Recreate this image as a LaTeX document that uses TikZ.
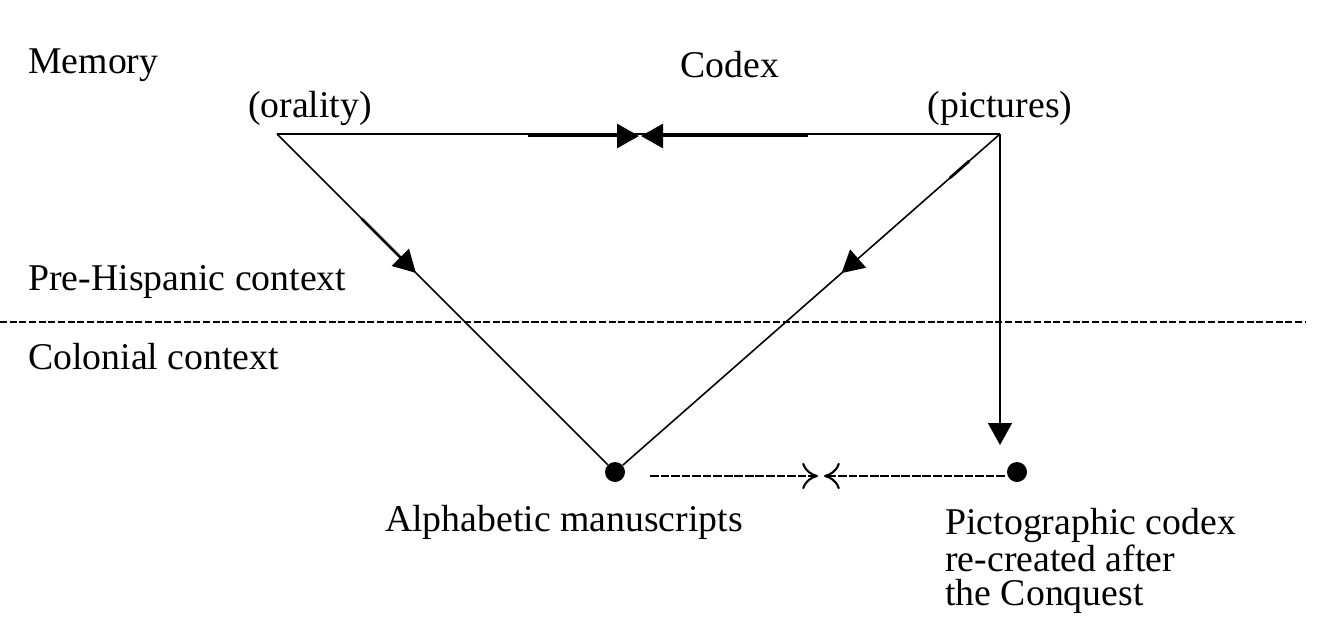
\documentclass[tikz,border=0pt]{standalone}
\usepackage{fontspec}
\setmainfont{Liberation Serif}
\usetikzlibrary{arrows.meta,decorations.markings,calc}
\begin{document}
\begin{tikzpicture}[x=0.02cm,y=-0.02cm,
  lbl/.style={font=\fontsize{21.5}{24}\selectfont,inner sep=0pt},
  tri/.style={-{Triangle[length=22*0.02cm,width=24*0.02cm]}},
  thin/.style={line width=0.9pt},
  dot/.style={circle,fill,inner sep=0pt,minimum size=20*0.02cm},
  midarrow/.style={postaction={decorate},decoration={markings,mark=at position #1 with {\arrow{Triangle[length=22*0.02cm,width=24*0.02cm]}}}}]
\useasboundingbox (0,0) rectangle (1320,629);
\coordinate (A) at (277,134);
\coordinate (P) at (1000,134);
\node[dot] (M) at (615,472) {};
\node[dot] (Q) at (1017,472) {};
\coordinate (D) at (1000,445);
\coordinate (L1) at (528,136); \coordinate (L2) at (639,136);
\coordinate (R1) at (808,136); \coordinate (R2) at (641,136);
\coordinate (B1) at (650,476); \coordinate (B2) at (818,476);
\coordinate (C1) at (1005,476); \coordinate (C2) at (824,476);
% text
\node[lbl,anchor=west] (mem) at (28,65) {Memory};
\node[lbl] (cod) at (730,65) {Codex};
\node[lbl] (ora) at (310,108) {(orality)};
\node[lbl] (pic) at (1000,108) {(pictures)};
\node[lbl,anchor=west] (pre) at (28,282) {Pre-Hispanic context};
\node[lbl,anchor=west] (col) at (28,357) {Colonial context};
\node[lbl] (alp) at (564,522) {Alphabetic manuscripts};
\node[lbl,anchor=north west,align=left,font=\fontsize{21.5}{19.4}\selectfont] (pcx) at (945,508) {Pictographic codex\\re-created after\\the Conquest};
% lines
\draw[thin] (A) -- (P);
\draw[line width=1.6pt,tri] (L1) -- (L2);
\draw[line width=1.6pt,tri] (R1) -- (R2);
\draw[thin,midarrow=0.42] (A) -- (M);
\draw[line width=1.6pt] ($(A)!0.25!(M)$) -- ($(A)!0.4!(M)$);
\draw[thin,midarrow=0.42] (P) -- (M);
\draw[line width=1.6pt] ($(P)!0.08!(M)$) -- ($(P)!0.13!(M)$);
\draw[thin,tri] (P) -- (D);
\draw[line width=0.6pt,dash pattern=on 4pt off 1.5pt] (0,322) -- (1305,322);
\draw[thin,dash pattern=on 5pt off 1pt,-{To[length=9pt,width=15pt,line width=1.2pt]}] (B1) -- (B2);
\draw[thin,dash pattern=on 5pt off 1pt,-{To[length=9pt,width=15pt,line width=1.2pt]}] (C1) -- (C2);
\end{tikzpicture}
\end{document}
